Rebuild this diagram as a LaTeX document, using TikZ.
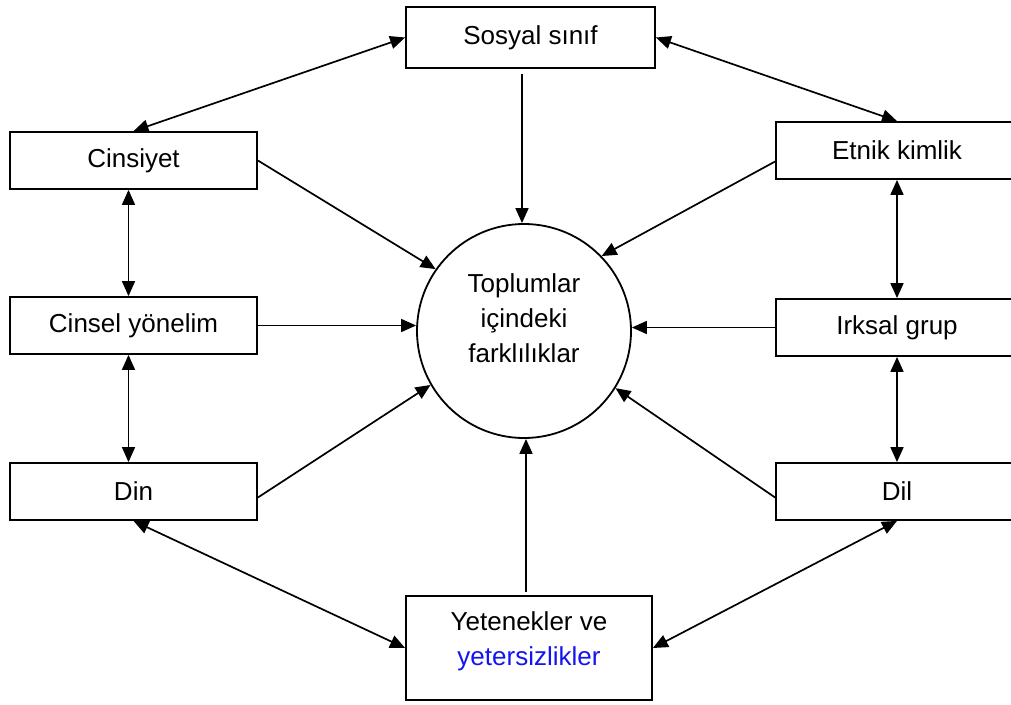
\documentclass[tikz,border=0pt]{standalone}
\usepackage{fontspec}
\setmainfont{Liberation Sans}
\usetikzlibrary{arrows.meta,calc}
\definecolor{lblue}{RGB}{20,20,240}
\begin{document}
\begin{tikzpicture}[x=1bp,y=-1bp,
  txt/.style={font=\fontsize{26bp}{35bp}\selectfont, align=center, inner sep=0pt},
  box/.style={draw, line width=1.8bp, inner sep=0pt, txt},
  lbox/.style={box, minimum width=247bp, minimum height=57bp},
  rbox/.style={box, minimum width=242bp, minimum height=57bp},
  conn/.style={line width=1.7bp, -{Triangle[length=15bp,width=13bp]}},
  both/.style={line width=1.7bp, {Triangle[length=15bp,width=13bp]}-{Triangle[length=15bp,width=13bp]}}]
\useasboundingbox (0,0) rectangle (1011,705);
\clip (0,0) rectangle (1011,705);
\node[box, minimum width=249bp, minimum height=61bp] (sos) at (530.5,37.5) {Sosyal sınıf};
\node[lbox] (cins) at (133.5,160.5) {Cinsiyet};
\node[lbox] (cinsel) at (133.5,325.5) {Cinsel yönelim};
\node[lbox] (din) at (133.5,491.5) {Din};
\node[rbox] (etn) at (897,150.5) {Etnik kimlik};
\node[rbox] (irk) at (897,327.5) {Irksal grup};
\node[rbox] (dil) at (897,491.5) {Dil};
\node[box, minimum width=246bp, minimum height=104bp] (yet) at (529,648) {};
\node[txt] (yettext) at (529,641) {Yetenekler ve\\\textcolor{lblue}{yetersizlikler}};
\node[box, circle, minimum size=214bp] (circ) at (524,331) {};
\node[txt] (circtext) at (524,318) {Toplumlar\\içindeki\\farklılıklar};

\draw[both] (cins.north) -- (sos.west);
\draw[both] (sos.east) -- (etn.north);
\draw[conn] ($(sos.south -| circ.north)+(-2,5)$) -- ($(circ.north)+(-2,0)$);
\draw[conn] (cins.east) -- (circ.145);
\draw[conn] ($(etn.west)+(0,11)$) -- (circ.44);
\draw[conn] (cinsel.east) -- (cinsel.east -| circ.west);
\draw[conn] (irk.west) -- (irk.west -| circ.east);
\draw[conn] ($(din.east)+(0,6)$) -- (circ.210);
\draw[conn] ($(dil.west)+(0,6)$) -- (circ.-32);
\draw[conn] ($(yet.north -| circ.south)+(2,-3)$) -- ($(circ.south)+(2,0)$);
\draw[both] (din.south) -- (yet.west);
\draw[both] (dil.south) -- (yet.east);
\draw[both] ($(cins.south)+(-5,0)$) -- ($(cinsel.north)+(-5,0)$);
\draw[both] ($(cinsel.south)+(-5,0)$) -- ($(din.north)+(-5,0)$);
\draw[both] (etn.south) -- (irk.north);
\draw[both] (irk.south) -- (dil.north);
\end{tikzpicture}
\end{document}
